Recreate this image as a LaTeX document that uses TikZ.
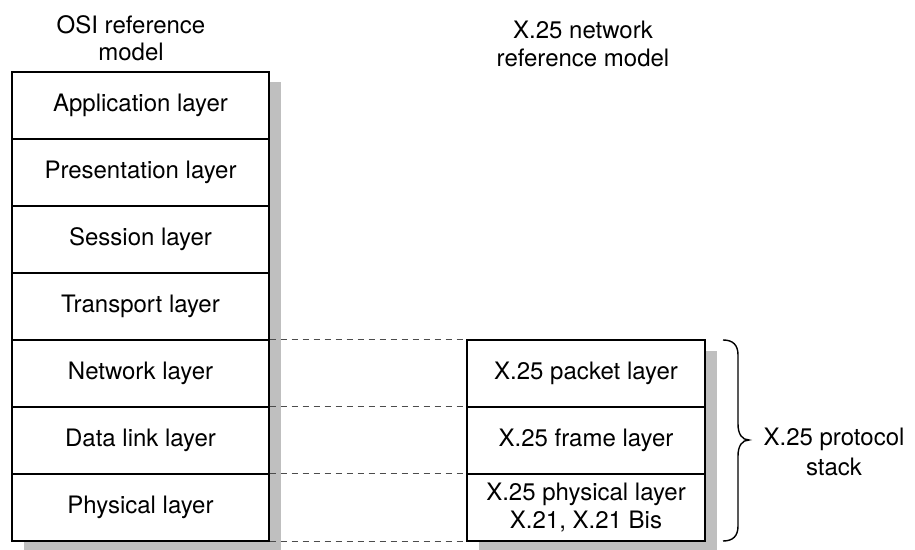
\documentclass[tikz,border=0pt]{standalone}
\usepackage{fontspec}
\setmainfont{TeX Gyre Heros}
\begin{document}
\begin{tikzpicture}[x=0.5pt,y=-0.5pt,
  layer/.style={draw=black,line width=0.7pt,fill=white,minimum width=128.5pt,minimum height=33.5pt,inner sep=0pt,align=center,font=\fontsize{12}{14}\selectfont},
  title/.style={align=center,font=\fontsize{12}{13.6}\selectfont,inner sep=0pt},
  guide/.style={draw=black!70,line width=0.5pt,dash pattern=on 3pt off 2.5pt}]
\useasboundingbox (0,0) rectangle (915,550);
% shadows
\fill[black!25] (24,82) rectangle (281,551);
\fill[black!25] (479,351) rectangle (717,551);
% OSI stack
\node[layer] (app)  at (140.5,105.5) {Application layer};
\node[layer] (pres) at (140.5,172.5) {Presentation layer};
\node[layer] (sess) at (140.5,239.5) {Session layer};
\node[layer] (trans) at (140.5,306.5) {Transport layer};
\node[layer] (net)  at (140.5,373.5) {Network layer};
\node[layer] (dl)   at (140.5,440.5) {Data link layer};
\node[layer] (phy)  at (140.5,507.5) {Physical layer};
% X.25 stack
\node[layer,minimum width=119pt] (pkt) at (586,373.5) {X.25 packet layer};
\node[layer,minimum width=119pt] (frm) at (586,440.5) {X.25 frame layer};
\node[layer,minimum width=119pt] (xph) at (586,507.5) {X.25 physical layer\\X.21, X.21 Bis};
% titles
\node[title] (t1) at (131,38) {OSI reference\\model};
\node[title] (t2) at (583,44) {X.25 network\\reference model};
% dashed guides
\draw[guide] (net.north east) -- (pkt.north west);
\draw[guide] (dl.north east) -- (frm.north west);
\draw[guide] (phy.north east) -- (xph.north west);
\draw[guide] (phy.south east) -- (xph.south west);
% brace
\coordinate (tip) at (749,440);
\draw[line width=0.7pt] (723,340) .. controls (733,340) and (738,345) .. (738,355) -- (738,424)
  .. controls (738,434) and (742,440) .. (tip)
  .. controls (742,440) and (738,446) .. (738,456) -- (738,526)
  .. controls (738,536) and (733,541) .. (723,541);
\node[title,font=\fontsize{12}{15}\selectfont] (lbl) at (834,452) {X.25 protocol\\stack};
\end{tikzpicture}
\end{document}
